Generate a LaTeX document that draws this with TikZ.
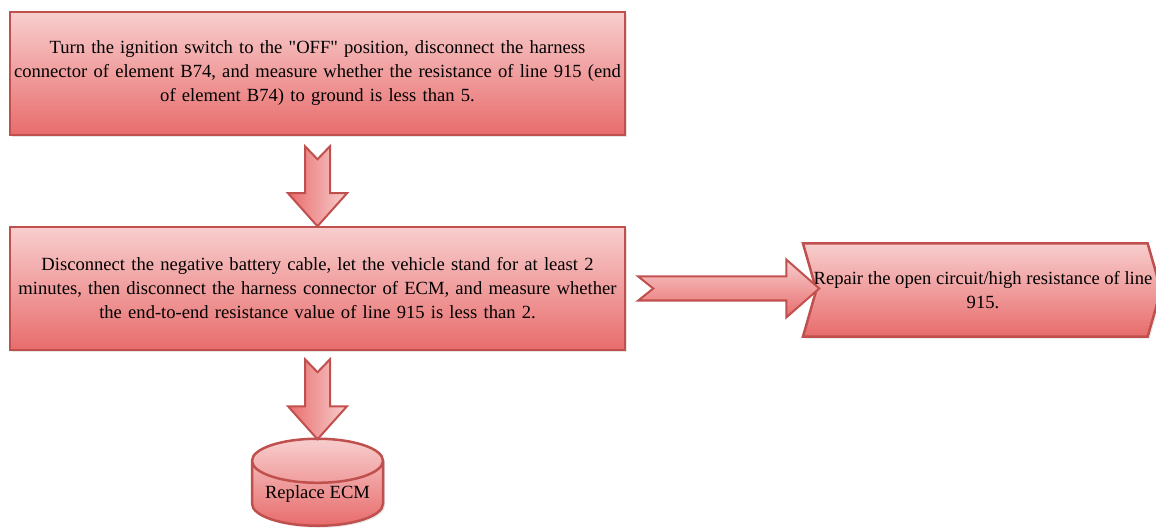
\documentclass[tikz,border=0pt]{standalone}
\usepackage{fontspec}
\setmainfont[Ligatures=TeXOff]{Liberation Serif}
\usetikzlibrary{shapes.geometric,shapes.symbols,shadows,calc}
\definecolor{penColor}{RGB}{192,80,77}
\definecolor{fillTop}{RGB}{248,206,206}
\definecolor{fillBot}{RGB}{232,108,108}
\tikzset{
  stepbox/.style={draw=penColor,line width=2.5pt,top color=fillTop,bottom color=fillBot,
    minimum width=615,minimum height=123,inner sep=0pt,text width=610,align=center,
    font=\fontsize{18.6}{24}\selectfont,drop shadow={shadow xshift=2pt,shadow yshift=-2pt,fill=black!20}},
  downarrow/.style={draw=penColor,line width=2pt,line join=miter,left color=fillBot,right color=fillTop},
  rightarrow/.style={draw=penColor,line width=2pt,line join=miter,top color=fillTop,bottom color=fillBot}
}

\begin{document}
\begin{tikzpicture}[x=1pt,y=1pt]
      \useasboundingbox (0,0) rectangle (1156,528);
      \node [stepbox] (off) at (317.5,454.5) {Turn the ignition switch to the "OFF" position, disconnect the harness\\connector of element B74, and measure whether the resistance of line 915 (end\\of element B74) to ground is less than 5.};
      \node [stepbox] (cable) at (317.5,239.5) {Disconnect the negative battery cable, let the vehicle stand for at least 2\\minutes, then disconnect the harness connector of ECM, and measure whether\\the end-to-end resistance value of line 915 is less than 2.};
      \node [signal,signal from=west,signal to=east,signal pointer angle=148,draw=penColor,line width=2.5pt,
        top color=fillTop,bottom color=fillBot,minimum width=358,minimum height=93,inner sep=0pt,
        drop shadow={shadow xshift=2pt,shadow yshift=-2pt,fill=black!20}] (repair) at (982,238) {};
      \node [font=\fontsize{18.6}{24}\selectfont,align=center] (repairtxt) at (983,238) {Repair the open circuit/high resistance of line\\915.};
      \node [cylinder,shape border rotate=90,aspect=0.42,draw=penColor,line width=2.5pt,
        top color=fillTop,bottom color=fillBot,anchor=south,
        drop shadow={shadow xshift=2pt,shadow yshift=-2pt,fill=black!20},
        minimum width=131,minimum height=87,inner sep=0pt,font=\fontsize{18.6}{24}\selectfont] (ecm) at (317.5,1) {Replace ECM};
      \draw [downarrow] ($(off.south)+(-12.5,-10)$) -- ++(12.5,-13) -- ++(12.5,13) -- ++(0,-47) -- ++(17,0)
        -- ++(-29.5,-33) -- ++(-29.5,33) -- ++(17,0) -- cycle;
      \draw [downarrow] ($(cable.south)+(-12.5,-8)$) -- ++(12.5,-13) -- ++(12.5,13) -- ++(0,-47) -- ++(17,0)
        -- ++(-29.5,-33) -- ++(-29.5,33) -- ++(17,0) -- cycle;
      \draw [rightarrow] ($(cable.east)+(12,12)$) -- ++(148,0) -- ++(0,17) -- ++(33,-29) -- ++(-33,-29)
        -- ++(0,17) -- ++(-148,0) -- ++(15,12) -- cycle;
    \end{tikzpicture}
\end{document}
